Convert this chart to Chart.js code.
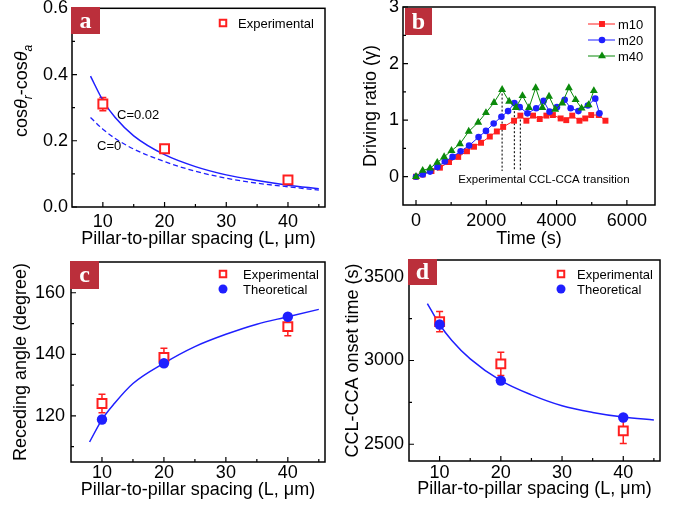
<!DOCTYPE html>
<html><head><meta charset="utf-8">
<script src="https://cdn.jsdelivr.net/npm/chart.js@4.4.0/dist/chart.umd.min.js"></script>
<style>
html,body{margin:0;padding:0;background:#fff;}
#wrap{position:relative;width:678px;height:508px;overflow:hidden;background:#fff;}
canvas{position:absolute;display:block;}
</style></head><body>
<div id="wrap">
<canvas id="ca" style="left:0;top:0"></canvas>
<canvas id="cb" style="left:340px;top:0"></canvas>
<canvas id="cc" style="left:0;top:250px"></canvas>
<canvas id="cd" style="left:340px;top:250px"></canvas>
</div>
<script>
// ---------------- DATA ----------------
// Panel a
const aExpX = [10, 20, 40];
const aExpY = [0.311, 0.176, 0.082];
const aExpErr = [0.02, 0.01, 0.006];
const aCurveX = [8, 10, 12, 15, 20, 25, 30, 35, 40, 45];
const aC002 = [0.395, 0.322, 0.27, 0.215, 0.158, 0.122, 0.097, 0.08, 0.066, 0.055];
const aC0 = [0.27, 0.235, 0.207, 0.175, 0.137, 0.108, 0.087, 0.072, 0.061, 0.051];
const aXTicks = [10, 20, 30, 40];
const aXMinor = [15, 25, 35, 45];
const aYTicks = [0, 0.2, 0.4, 0.6];
const aYMinor = [0.1, 0.3, 0.5];

// Panel b
const bT10 = [0, 190, 440, 680, 940, 1200, 1450, 1650, 1850, 2100, 2300, 2480, 2790, 2970, 3140, 3330, 3520, 3710, 3895, 4115, 4275, 4445, 4650, 4815, 4985, 5200, 5390];
const bM10 = [0, 0.04, 0.1, 0.16, 0.26, 0.35, 0.45, 0.53, 0.6, 0.71, 0.8, 0.88, 0.99, 1.08, 0.99, 1.08, 1.02, 1.08, 1.09, 1.03, 1.0, 1.08, 0.99, 1.03, 1.09, 1.09, 0.99];
const bT20 = [0, 190, 400, 610, 820, 1040, 1270, 1510, 1780, 1990, 2210, 2430, 2620, 2800, 2950, 3170, 3420, 3630, 3800, 4010, 4230, 4400, 4620, 4890, 5100, 5220];
const bM20 = [0, 0.04, 0.09, 0.17, 0.27, 0.35, 0.45, 0.55, 0.70, 0.81, 0.94, 1.06, 1.16, 1.30, 1.23, 1.12, 1.21, 1.34, 1.15, 1.23, 1.36, 1.21, 1.16, 1.26, 1.38, 1.12];
const bT40 = [0, 190, 400, 605, 800, 1010, 1250, 1500, 1770, 1990, 2220, 2450, 2650, 2840, 3030, 3215, 3405, 3595, 3785, 3960, 4160, 4350, 4540, 4710, 4910, 5060];
const bM40 = [0, 0.11, 0.15, 0.25, 0.35, 0.46, 0.58, 0.80, 0.96, 1.13, 1.31, 1.54, 1.33, 1.22, 1.43, 1.22, 1.57, 1.22, 1.42, 1.19, 1.30, 1.57, 1.36, 1.21, 1.27, 1.52];
const bTransT = [2450, 2800, 2970];
const bTransTop = [1.54, 1.30, 1.08];
const bTransBottom = 0.1;
const bXTicks = [0, 2000, 4000, 6000];
const bXMinor = [1000, 3000, 5000];
const bYTicks = [0, 1, 2, 3];
const bYMinor = [0.5, 1.5, 2.5];

// Panel c
const cExpX = [10, 20, 40];
const cExpY = [124, 139, 149];
const cExpErr = [3, 3, 3];
const cTheoX = [10, 20, 40];
const cTheoY = [118.8, 137.1, 152.2];
const cCurveX = [8, 10, 12, 15, 20, 25, 30, 35, 40, 45];
const cCurveY = [111.5, 118.8, 124, 130.5, 137.1, 142.5, 146.5, 149.8, 152.2, 154.6];
const cXTicks = [10, 20, 30, 40];
const cXMinor = [15, 25, 35, 45];
const cYTicks = [120, 140, 160];
const cYMinor = [110, 130, 150];

// Panel d
const dExpX = [10, 20, 40];
const dExpY = [3232, 2980, 2580];
const dExpErr = [60, 70, 75];
const dTheoX = [10, 20, 40];
const dTheoY = [3215, 2880, 2660];
const dCurveX = [8, 10, 12, 15, 20, 25, 30, 35, 40, 45];
const dCurveY = [3340, 3215, 3120, 3010, 2880, 2795, 2730, 2690, 2662, 2645];
const dXTicks = [10, 20, 30, 40];
const dXMinor = [15, 25, 35, 45];
const dYTicks = [2500, 3000, 3500];
const dYMinor = [2750, 3250];

// ---------------- STYLE ----------------
const FONT = "'Liberation Sans', Arial, Helvetica, sans-serif";
const SERIF = "'Liberation Serif', 'Times New Roman', serif";
const RED = '#ff1f1f', BLUE = '#1f1fff', GREEN = '#0b8a0b', BADGE = '#bb2f3b';
const TICK_SIZE = 18, TITLE_SIZE = 18;

const pts = (xs, ys) => xs.map((x, i) => ({x, y: ys[i]}));

function drawMarker(ctx, style, x, y, r, stroke, fill, lw) {
  ctx.save();
  ctx.fillStyle = fill; ctx.strokeStyle = stroke; ctx.lineWidth = lw;
  Chart.helpers.drawPoint(ctx, {pointStyle: style, radius: r, borderWidth: lw, rotation: 0}, x, y);
  ctx.restore();
}

function panelPlugin(p) {
  return {
    id: 'panel',
    beforeDatasetsDraw(chart) {
      const ctx = chart.ctx, sx = chart.scales.x, sy = chart.scales.y;
      (p.errors || []).forEach(e => {
        ctx.save(); ctx.strokeStyle = e.color; ctx.lineWidth = 1.5;
        e.x.forEach((xv, i) => {
          const px = sx.getPixelForValue(xv);
          const y1 = sy.getPixelForValue(e.y[i] + e.err[i]);
          const y2 = sy.getPixelForValue(e.y[i] - e.err[i]);
          ctx.beginPath();
          ctx.moveTo(px, y1); ctx.lineTo(px, y2);
          ctx.moveTo(px - 3.5, y1); ctx.lineTo(px + 3.5, y1);
          ctx.moveTo(px - 3.5, y2); ctx.lineTo(px + 3.5, y2);
          ctx.stroke();
        });
        ctx.restore();
      });
      if (p.vlines) {
        const v = p.vlines;
        ctx.save(); ctx.strokeStyle = '#222'; ctx.lineWidth = 1.2; ctx.setLineDash([2, 2]);
        v.t.forEach((t, i) => {
          const px = sx.getPixelForValue(t);
          ctx.beginPath();
          ctx.moveTo(px, sy.getPixelForValue(v.top[i]));
          ctx.lineTo(px, sy.getPixelForValue(v.bottom));
          ctx.stroke();
        });
        ctx.restore();
      }
    },
    afterDraw(chart) {
      const ctx = chart.ctx, ca = chart.chartArea, sx = chart.scales.x, sy = chart.scales.y;
      ctx.save();
      // frame
      ctx.strokeStyle = '#000'; ctx.lineWidth = 1.5;
      ctx.strokeRect(ca.left, ca.top, ca.right - ca.left, ca.bottom - ca.top);
      // inward ticks
      ctx.lineWidth = 1.2;
      ctx.beginPath();
      p.xMajor.forEach(v => { const x = sx.getPixelForValue(v); ctx.moveTo(x, ca.bottom); ctx.lineTo(x, ca.bottom - 5); });
      p.xMinor.forEach(v => { const x = sx.getPixelForValue(v); ctx.moveTo(x, ca.bottom); ctx.lineTo(x, ca.bottom - 3); });
      p.yMajor.forEach(v => { const y = sy.getPixelForValue(v); ctx.moveTo(ca.left, y); ctx.lineTo(ca.left + 5, y); });
      p.yMinor.forEach(v => { const y = sy.getPixelForValue(v); ctx.moveTo(ca.left, y); ctx.lineTo(ca.left + 3, y); });
      ctx.stroke();
      // badge
      const b = p.badge;
      ctx.fillStyle = BADGE; ctx.fillRect(b.x, b.y, b.w, b.h);
      ctx.fillStyle = '#fff'; ctx.font = 'bold 24px ' + SERIF;
      ctx.textAlign = 'center'; ctx.textBaseline = 'middle';
      ctx.fillText(b.text, b.x + b.w / 2, b.y + b.h / 2 + 1);
      // legend
      (p.legend || []).forEach(l => {
        if (l.line) {
          ctx.strokeStyle = l.color; ctx.lineWidth = 1;
          ctx.beginPath(); ctx.moveTo(l.mx - 14, l.y); ctx.lineTo(l.mx + 13, l.y); ctx.stroke();
        }
        drawMarker(ctx, l.style, l.mx, l.y, l.r, l.color, l.fill, l.lw);
        ctx.fillStyle = '#000'; ctx.font = '13px ' + FONT;
        ctx.textAlign = 'left'; ctx.textBaseline = 'middle';
        ctx.fillText(l.text, l.tx, l.y + 1);
      });
      // free texts
      (p.texts || []).forEach(t => {
        ctx.fillStyle = '#000'; ctx.font = t.size + 'px ' + FONT;
        ctx.textAlign = t.align || 'left'; ctx.textBaseline = 'middle';
        ctx.fillText(t.text, t.x, t.y);
      });
      if (p.customYTitle) p.customYTitle(ctx);
      ctx.restore();
    }
  };
}

function makeChart(id, W, H, area, ax, datasets, plug) {
  const cv = document.getElementById(id);
  cv.width = W; cv.height = H;
  cv.style.width = W + 'px'; cv.style.height = H + 'px';
  return new Chart(cv, {
    type: 'scatter',
    data: {datasets},
    options: {
      responsive: false, animation: false, devicePixelRatio: 1,
      layout: {padding: {left: 0, top: area.top, right: W - area.right, bottom: 0}},
      plugins: {legend: {display: false}, tooltip: {enabled: false}},
      scales: {
        x: {
          type: 'linear', min: ax.xmin, max: ax.xmax,
          afterBuildTicks: s => { s.ticks = ax.xticks.map(v => ({value: v})); },
          afterFit: s => { s.height = H - area.bottom; s.paddingLeft = 0; s.paddingRight = 0; },
          grid: {display: false, drawTicks: false}, border: {display: false},
          ticks: {color: '#000', autoSkip: false, maxRotation: 0, padding: ax.xTickPad,
                  font: {family: FONT, size: TICK_SIZE}, callback: v => String(v)},
          title: {display: true, text: ax.xTitle, color: '#000',
                  font: {family: FONT, size: TITLE_SIZE}, padding: {top: 0, bottom: ax.xTitlePad}}
        },
        y: {
          type: 'linear', min: ax.ymin, max: ax.ymax,
          afterBuildTicks: s => { s.ticks = ax.yticks.map(v => ({value: v})); },
          afterFit: s => { s.width = area.left; s.paddingTop = 0; s.paddingBottom = 0; },
          grid: {display: false, drawTicks: false}, border: {display: false},
          ticks: {color: '#000', autoSkip: false, padding: ax.yTickPad,
                  font: {family: FONT, size: TICK_SIZE}, callback: ax.yfmt || (v => String(v))},
          title: {display: !!ax.yTitle, text: ax.yTitle || '', color: '#000',
                  font: {family: FONT, size: TITLE_SIZE}, padding: {top: ax.yTitlePad || 0, bottom: 0}}
        }
      }
    },
    plugins: [plug]
  });
}

const XTITLE = 'Pillar-to-pillar spacing (L, \u03bcm)';

// ---------------- PANEL A ----------------
makeChart('ca', 340, 250, {left: 72, right: 325, top: 6, bottom: 207},
  {xmin: 5, xmax: 46, ymin: 0, ymax: 0.6, xticks: aXTicks, yticks: aYTicks,
   xTitle: XTITLE, xTitlePad: 0, xTickPad: 4, yTickPad: 4, yfmt: v => v.toFixed(1)},
  [
    {label: 'Experimental', data: pts(aExpX, aExpY), pointStyle: 'rect', pointRadius: 6.3,
     borderColor: RED, backgroundColor: '#fff', pointBorderWidth: 2, order: 0},
    {label: 'C=0.02', data: pts(aCurveX, aC002), showLine: true, pointRadius: 0,
     borderColor: BLUE, borderWidth: 1.5, cubicInterpolationMode: 'monotone', order: 1},
    {label: 'C=0', data: pts(aCurveX, aC0), showLine: true, pointRadius: 0, borderDash: [5, 3],
     borderColor: BLUE, borderWidth: 1.3, cubicInterpolationMode: 'monotone', order: 2}
  ],
  panelPlugin({
    xMajor: aXTicks, xMinor: aXMinor, yMajor: aYTicks, yMinor: aYMinor,
    errors: [{x: aExpX, y: aExpY, err: aExpErr, color: RED}],
    badge: {x: 71, y: 7, w: 29, h: 27, text: 'a'},
    legend: [{style: 'rect', mx: 223, y: 23, r: 4.6, color: RED, fill: '#fff', lw: 2, text: 'Experimental', tx: 238}],
    texts: [{text: 'C=0.02', x: 117, y: 115, size: 13}, {text: 'C=0', x: 97, y: 146, size: 13}],
    customYTitle: ctx => {
      const size = 18, sub = 12;
      const parts = [
        {t: 'cos', f: size + 'px ' + FONT, dy: 0},
        {t: '\u03b8', f: 'italic ' + size + 'px ' + FONT, dy: 0},
        {t: 'r', f: 'italic ' + sub + 'px ' + FONT, dy: 5},
        {t: '-cos', f: size + 'px ' + FONT, dy: 0},
        {t: '\u03b8', f: 'italic ' + size + 'px ' + FONT, dy: 0},
        {t: 'a', f: 'italic ' + sub + 'px ' + FONT, dy: 5}
      ];
      let total = 0;
      parts.forEach(pt => { ctx.font = pt.f; pt.w = ctx.measureText(pt.t).width; total += pt.w; });
      ctx.save();
      ctx.translate(27, 91); ctx.rotate(-Math.PI / 2);
      ctx.fillStyle = '#000'; ctx.textAlign = 'left'; ctx.textBaseline = 'alphabetic';
      let x = -total / 2;
      parts.forEach(pt => { ctx.font = pt.f; ctx.fillText(pt.t, x, pt.dy); x += pt.w; });
      ctx.restore();
    }
  }));

// ---------------- PANEL B ----------------
makeChart('cb', 338, 250, {left: 63, right: 315, top: 7, bottom: 205},
  {xmin: -370, xmax: 6800, ymin: -0.5, ymax: 3, xticks: bXTicks, yticks: bYTicks,
   xTitle: 'Time (s)', xTitlePad: 0, xTickPad: 5, yTickPad: 4,
   yTitle: 'Driving ratio (\u03b3)', yTitlePad: 20},
  [
    {label: 'm10', data: pts(bT10, bM10), showLine: true, borderColor: RED, backgroundColor: RED,
     borderWidth: 1, pointStyle: 'rect', pointRadius: 4.2, pointBorderWidth: 0, order: 2},
    {label: 'm20', data: pts(bT20, bM20), showLine: true, borderColor: BLUE, backgroundColor: BLUE,
     borderWidth: 1, pointStyle: 'circle', pointRadius: 3.3, pointBorderWidth: 0, order: 1},
    {label: 'm40', data: pts(bT40, bM40), showLine: true, borderColor: GREEN, backgroundColor: GREEN,
     borderWidth: 1, pointStyle: 'triangle', pointRadius: 4.6, pointBorderWidth: 0, order: 0}
  ],
  panelPlugin({
    xMajor: bXTicks, xMinor: bXMinor, yMajor: bYTicks, yMinor: bYMinor,
    vlines: {t: bTransT, top: bTransTop, bottom: bTransBottom},
    badge: {x: 65, y: 8, w: 27, h: 27, text: 'b'},
    legend: [
      {style: 'rect', mx: 262, y: 24, r: 4.2, color: RED, fill: RED, lw: 0, line: true, text: 'm10', tx: 278},
      {style: 'circle', mx: 262, y: 40, r: 3.3, color: BLUE, fill: BLUE, lw: 0, line: true, text: 'm20', tx: 278},
      {style: 'triangle', mx: 262, y: 56, r: 4.6, color: GREEN, fill: GREEN, lw: 0, line: true, text: 'm40', tx: 278}
    ],
    texts: [{text: 'Experimental CCL-CCA transition', x: 204, y: 180, size: 11.5, align: 'center'}]
  }));

// ---------------- PANEL C ----------------
makeChart('cc', 340, 258, {left: 71, right: 325, top: 12, bottom: 212},
  {xmin: 5, xmax: 46, ymin: 105, ymax: 170, xticks: cXTicks, yticks: cYTicks,
   xTitle: XTITLE, xTitlePad: 7, xTickPad: 0, yTickPad: 6,
   yTitle: 'Receding angle (degree)', yTitlePad: 10},
  [
    {label: 'Theoretical', data: pts(cTheoX, cTheoY), pointStyle: 'circle', pointRadius: 5.2,
     borderColor: BLUE, backgroundColor: BLUE, pointBorderWidth: 0, order: 0},
    {label: 'Experimental', data: pts(cExpX, cExpY), pointStyle: 'rect', pointRadius: 6.3,
     borderColor: RED, backgroundColor: '#fff', pointBorderWidth: 2, order: 1},
    {label: 'Fit', data: pts(cCurveX, cCurveY), showLine: true, pointRadius: 0,
     borderColor: BLUE, borderWidth: 1.5, cubicInterpolationMode: 'monotone', order: 2}
  ],
  panelPlugin({
    xMajor: cXTicks, xMinor: cXMinor, yMajor: cYTicks, yMinor: cYMinor,
    errors: [{x: cExpX, y: cExpY, err: cExpErr, color: RED}],
    badge: {x: 70, y: 11, w: 29, h: 28, text: 'c'},
    legend: [
      {style: 'rect', mx: 223, y: 24, r: 4.6, color: RED, fill: '#fff', lw: 2, text: 'Experimental', tx: 243},
      {style: 'circle', mx: 223, y: 39, r: 4.5, color: BLUE, fill: BLUE, lw: 0, text: 'Theoretical', tx: 243}
    ]
  }));

// ---------------- PANEL D ----------------
makeChart('cd', 338, 258, {left: 69, right: 320, top: 10, bottom: 211},
  {xmin: 5, xmax: 46, ymin: 2400, ymax: 3600, xticks: dXTicks, yticks: dYTicks,
   xTitle: XTITLE, xTitlePad: 8, xTickPad: 1, yTickPad: 5,
   yTitle: 'CCL-CCA onset time (s)', yTitlePad: 2},
  [
    {label: 'Theoretical', data: pts(dTheoX, dTheoY), pointStyle: 'circle', pointRadius: 5.2,
     borderColor: BLUE, backgroundColor: BLUE, pointBorderWidth: 0, order: 0},
    {label: 'Experimental', data: pts(dExpX, dExpY), pointStyle: 'rect', pointRadius: 6.3,
     borderColor: RED, backgroundColor: '#fff', pointBorderWidth: 2, order: 1},
    {label: 'Fit', data: pts(dCurveX, dCurveY), showLine: true, pointRadius: 0,
     borderColor: BLUE, borderWidth: 1.5, cubicInterpolationMode: 'monotone', order: 2}
  ],
  panelPlugin({
    xMajor: dXTicks, xMinor: dXMinor, yMajor: dYTicks, yMinor: dYMinor,
    errors: [{x: dExpX, y: dExpY, err: dExpErr, color: RED}],
    badge: {x: 68, y: 9, w: 29, h: 26, text: 'd'},
    legend: [
      {style: 'rect', mx: 221, y: 24, r: 4.6, color: RED, fill: '#fff', lw: 2, text: 'Experimental', tx: 237},
      {style: 'circle', mx: 221, y: 39, r: 4.5, color: BLUE, fill: BLUE, lw: 0, text: 'Theoretical', tx: 237}
    ]
  }));
</script>
</body></html>
